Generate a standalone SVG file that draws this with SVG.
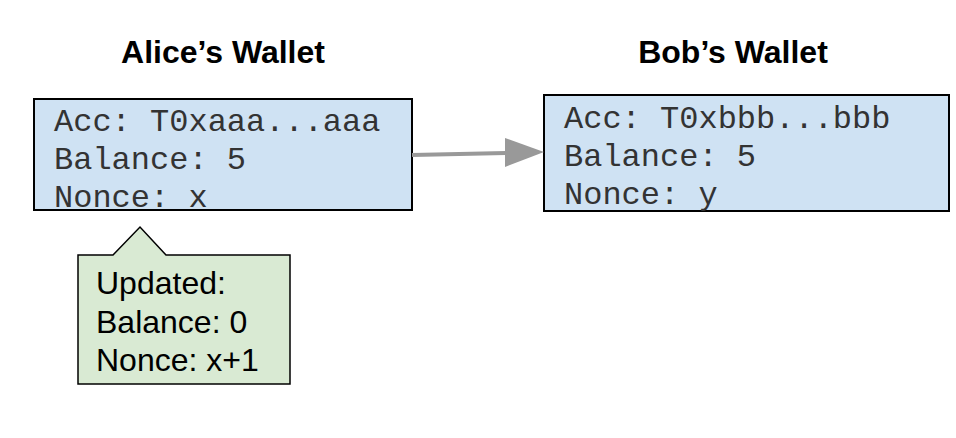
<svg xmlns="http://www.w3.org/2000/svg" width="956" height="438" viewBox="0 0 956 438">
<defs>
<style>
.box{fill:#cfe2f3;stroke:#000;stroke-width:2}
.call{fill:#d9ead3;stroke:#000;stroke-width:1.5}
.mono{font-family:"Liberation Mono","Courier New",monospace;font-size:32px;fill:#333}
.title{font-family:"Liberation Sans",Arial,sans-serif;font-size:32px;font-weight:bold;fill:#000;text-anchor:middle}
.sans{font-family:"Liberation Sans",Arial,sans-serif;font-size:32px;fill:#000}
</style>
</defs>
<rect width="956" height="438" fill="#fff"/>
<g id="alice">
<text class="title" x="223" y="63">Alice’s Wallet</text>
<rect class="box" x="34" y="99" width="378" height="111"/>
<text class="mono" x="54" y="131">Acc: T0xaaa...aaa</text>
<text class="mono" x="54" y="169">Balance: 5</text>
<text class="mono" x="54" y="207">Nonce: x</text>
</g>
<g id="bob">
<text class="title" x="733" y="63">Bob’s Wallet</text>
<rect class="box" x="544" y="95" width="405" height="116"/>
<text class="mono" x="564" y="128">Acc: T0xbbb...bbb</text>
<text class="mono" x="564" y="166">Balance: 5</text>
<text class="mono" x="564" y="204">Nonce: y</text>
</g>
<g id="callout">
<path class="call" d="M78,255 L113,255 L140,227 L166,255 L290,255 L290,384 L78,384 Z"/>
<text class="sans" x="96" y="294">Updated:</text>
<text class="sans" x="96" y="333">Balance: 0</text>
<text class="sans" x="96" y="371">Nonce: x+1</text>
</g>
<g id="connectors">
<line x1="412" y1="155" x2="506" y2="153" stroke="#999" stroke-width="4"/>
<path d="M505,138 L544,152 L505,167 Z" fill="#999"/>
</g>
</svg>
